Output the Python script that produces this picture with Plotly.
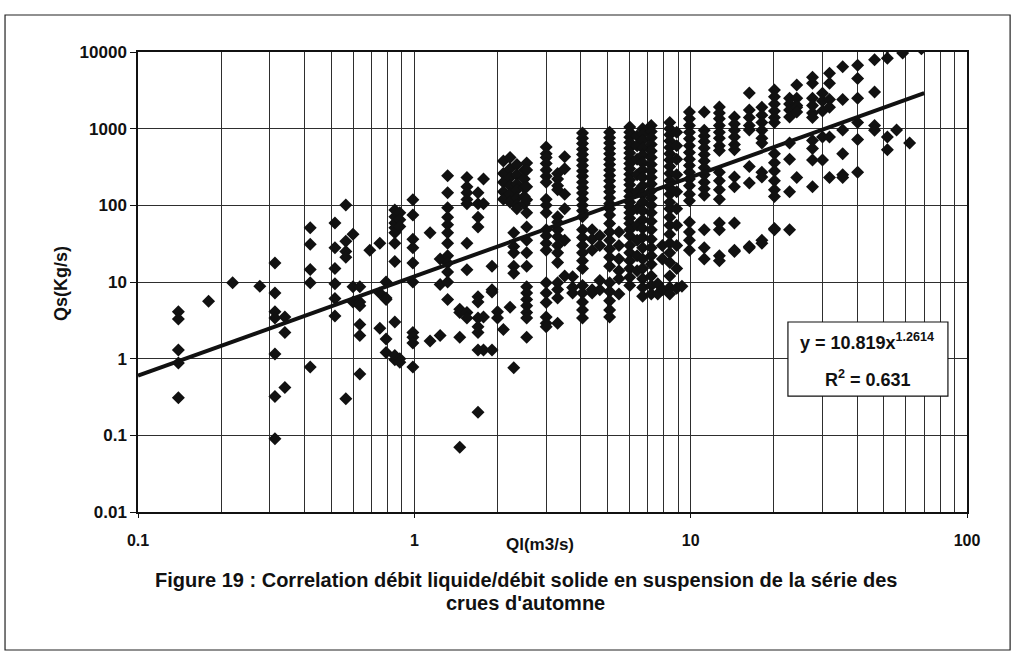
import plotly.graph_objects as go

# Ql (m3/s) columns and the Qs (Kg/s) values read at each column
ql_cols = [0.14, 0.18, 0.22, 0.276, 0.313, 0.34, 0.42, 0.516, 0.565, 0.60,
           0.635, 0.69, 0.75, 0.79, 0.85, 0.886, 0.988, 1.14, 1.24, 1.32,
           1.46, 1.55, 1.70, 1.78, 1.91, 2.0, 2.1, 2.22, 2.29, 2.35,
           2.5, 2.55, 3.0, 3.3, 3.5, 3.74, 4.06, 4.4, 4.69, 5.09,
           5.5, 6.02, 6.4, 6.7, 7.2, 7.6, 7.9, 8.4, 8.9, 9.3,
           9.9, 11.2, 12.7, 14.4, 16.3, 18.1, 20.1, 22.8, 24.2, 27.6,
           30.0, 31.8, 35.5, 40.2, 46.3, 51.5, 55.6, 58.5, 62.0, 68.4]

qs_cols = [
    [4.1, 3.3, 1.3, 0.88, 0.31],
    [5.6],
    [9.8],
    [8.8],
    [17.7, 7.2, 4.1, 3.4, 1.15, 0.32, 0.09],
    [3.5, 2.2, 0.42],
    [51, 31, 14.6, 9.8, 0.78],
    [59, 28, 15, 9.5, 6.1, 3.6],
    [101, 34, 25, 21, 0.30],
    [42, 8.7, 5.5],
    [8.7, 5.5, 4.9, 2.8, 2.0, 0.63],
    [26],
    [32, 7.2, 2.5],
    [10, 6.2, 5.9, 1.8, 1.2],
    [87, 71, 59, 51, 44, 32, 18.5, 3.0, 0.97, 1.1],
    [80, 65, 53, 1.0, 0.9],
    [118, 75, 36, 28, 17.7, 10, 2.2, 1.9, 1.6, 0.78],
    [44, 1.7],
    [20, 9.3, 2.0],
    [243, 146, 93, 70, 56, 44, 32, 22, 17.7, 13.5, 10, 5.9],
    [4.4, 4.0, 1.9, 0.07],
    [230, 175, 146, 119, 105, 32, 14.4, 4.0, 3.4],
    [146, 105, 70, 52, 6.4, 5.5, 3.4, 2.6, 2.2, 1.3, 0.20],
    [220, 105, 3.5, 1.3],
    [16, 7.9, 7.4, 1.3],
    [4.1, 3.4],
    [380, 260, 200, 150, 120, 2.4],
    [420, 300, 230, 180, 140, 110, 4.7],
    [44, 29, 24, 16, 13, 0.76],
    [340, 250, 190, 160, 125, 100, 90],
    [290, 220, 170, 130, 105],
    [357, 290, 175, 118, 80, 52, 35, 24, 16, 8.7, 7.2, 5.9, 4.9, 4.0, 3.4, 1.9],
    [575, 470, 420, 350, 290, 240, 200, 120, 100, 80, 48, 40, 32, 26, 9.8, 7.2, 5.4, 3.5, 2.9, 2.6],
    [260, 220, 180, 160, 71, 60, 48, 39, 30, 24, 18, 9.8, 8, 6.2, 2.9],
    [430, 300, 140, 90, 35, 12],
    [11.7, 8.5, 7.2],
    [880, 750, 640, 540, 460, 390, 330, 280, 240, 200, 170, 145, 120, 100, 85, 71,
     48, 38, 30, 24, 19, 15, 9, 7.2, 5.5, 4.3, 3.4],
    [48, 36, 26, 7.9, 7.2],
    [40, 30, 10.5, 7.9],
    [900, 760, 650, 550, 470, 400, 340, 290, 245, 210, 175, 150, 125, 105, 90, 75,
     58, 45, 35, 27, 21, 16, 9.8, 7.5, 5.7, 4.3, 3.5],
    [45, 30, 20, 14, 11, 7],
    [1050, 900, 770, 660, 560, 480, 410, 350, 300, 255, 215, 185, 155, 130, 110, 95,
     80, 68, 58, 48, 40, 30, 24, 19, 15, 11.5, 9],
    [800, 600, 400, 250, 150, 90, 55, 35, 22, 14],
    [1000, 850, 700, 560, 450, 360, 290, 230, 180, 140, 110, 85, 65, 50, 38, 28, 20,
     15, 11, 8.5, 6.5],
    [1100, 920, 760, 620, 510, 420, 340, 280, 230, 190, 155, 125, 100, 80, 62, 48,
     36, 28, 22, 17, 12, 9, 7],
    [9.5, 7],
    [30, 20, 8],
    [1200, 1000, 830, 690, 570, 470, 390, 320, 260, 210, 170, 140, 110, 90, 70, 55,
     42, 32, 24, 18, 12, 8.5, 7],
    [900, 600, 400, 250, 150, 90, 55, 30, 15, 8.3],
    [8.8],
    [1650, 1350, 1100, 900, 740, 600, 490, 400, 330, 270, 220, 180, 140, 115, 60, 45, 35, 26],
    [1650, 950, 800, 680, 560, 460, 380, 310, 250, 200, 165, 135, 48, 28, 20],
    [1920, 1600, 1350, 1100, 900, 750, 600, 520, 270, 210, 160, 120, 59, 48, 22, 19],
    [1420, 1150, 950, 780, 620, 530, 234, 175, 59, 26, 25],
    [2920, 1750, 1400, 1100, 960, 320, 196, 29, 28],
    [1900, 1500, 1200, 950, 750, 650, 270, 234, 35, 32],
    [3200, 2600, 2100, 1700, 1400, 1200, 470, 360, 280, 210, 160, 130, 50, 48],
    [2500, 2100, 1750, 1420, 650, 400, 150, 48],
    [3700, 2500, 2000, 1900, 1650, 230],
    [4700, 3900, 2500, 2000, 1600, 1400, 700, 550, 390, 175],
    [2900, 2300, 1700, 780, 390],
    [5300, 3900, 2400, 1900, 780, 230],
    [6400, 2400, 960, 470, 250, 230],
    [6700, 4500, 2500, 1200, 720, 270],
    [7900, 3000, 1100, 950],
    [11500, 8300, 780, 530],
    [960],
    [9700],
    [650],
    [11000],
]

# Power trend line endpoints (y = 10.819x^1.2614, as drawn)
trend_ql = [0.1, 70]
trend_qs = [0.6, 2900]

x_ticks = [0.1, 1, 10, 100]
x_ticktext = ["0.1", "1", "10", "100"]
y_ticks = [0.01, 0.1, 1, 10, 100, 1000, 10000]
y_ticktext = ["0.01", "0.1", "1", "10", "100", "1000", "10000"]

xs, ys = [], []
for q, col in zip(ql_cols, qs_cols):
    for v in col:
        xs.append(q)
        ys.append(v)

FONT = "Liberation Sans"
INK = "#111111"
fig = go.Figure()
fig.add_trace(go.Scatter(x=xs, y=ys, mode="markers",
                         marker=dict(symbol="diamond", size=10, color=INK),
                         showlegend=False))
fig.add_trace(go.Scatter(x=trend_ql, y=trend_qs, mode="lines",
                         line=dict(color=INK, width=4), showlegend=False))

grid = "#2e2e2e"
fig.update_xaxes(type="log", range=[-1, 2], tickvals=x_ticks, ticktext=x_ticktext,
                 showgrid=True, gridcolor=grid, gridwidth=1,
                 minor=dict(dtick="D1", showgrid=True, gridcolor=grid, gridwidth=1, ticks=""),
                 showline=True, linecolor=INK, linewidth=1.5, mirror=True,
                 ticks="outside", ticklen=4, tickcolor=INK,
                 ticklabelstandoff=9,
                 tickfont=dict(family=FONT, size=16, color=INK, weight="bold"),
                 zeroline=False)
fig.update_yaxes(type="log", range=[-2, 4], tickvals=y_ticks, ticktext=y_ticktext,
                 showgrid=True, gridcolor=grid, gridwidth=1,
                 showline=True, linecolor=INK, linewidth=1.5, mirror=True,
                 ticks="outside", ticklen=6, tickcolor=INK,
                 tickfont=dict(family=FONT, size=17, color=INK, weight="bold"),
                 zeroline=False)

fig.add_annotation(xref="paper", yref="paper", x=-0.092, y=0.497, text="Qs(Kg/s)",
                   textangle=-90, showarrow=False, xanchor="center", yanchor="middle",
                   font=dict(family=FONT, size=18, color=INK, weight="bold"))
fig.add_annotation(xref="paper", yref="paper", x=0.485, y=-0.07, text="Ql(m3/s)",
                   showarrow=False, xanchor="center", yanchor="middle",
                   font=dict(family=FONT, size=17, color=INK, weight="bold"))
fig.add_annotation(xref="paper", yref="paper", x=0.468, y=-0.148,
                   text="Figure 19 : Correlation débit liquide/débit solide en suspension de la série des",
                   showarrow=False, xanchor="center", yanchor="middle",
                   font=dict(family=FONT, size=20, color=INK, weight="bold"))
fig.add_annotation(xref="paper", yref="paper", x=0.468, y=-0.198,
                   text="crues d'automne",
                   showarrow=False, xanchor="center", yanchor="middle",
                   font=dict(family=FONT, size=20, color=INK, weight="bold"))

# equation box
fig.add_shape(type="rect", xref="paper", yref="paper", x0=0.784, x1=0.977,
              y0=0.252, y1=0.413, fillcolor="white", line=dict(color=INK, width=1.2),
              layer="above")
fig.add_annotation(xref="paper", yref="paper", x=0.8794, y=0.3696,
                   text="y = 10.819x<sup>1.2614</sup>", showarrow=False,
                   xanchor="center", yanchor="middle",
                   font=dict(family=FONT, size=18, color=INK, weight="bold"))
fig.add_annotation(xref="paper", yref="paper", x=0.8806, y=0.2913,
                   text="R<sup>2</sup> = 0.631", showarrow=False,
                   xanchor="center", yanchor="middle",
                   font=dict(family=FONT, size=18, color=INK, weight="bold"))

# outer frame
fig.add_shape(type="rect", xref="paper", yref="paper", x0=-0.1604, x1=1.052,
              y0=-0.30, y1=1.0804, line=dict(color="#222", width=1.2),
              fillcolor="rgba(0,0,0,0)", layer="above")

fig.update_layout(width=1015, height=659, plot_bgcolor="white", paper_bgcolor="white",
                  margin=dict(l=138, r=48, t=52, b=147),
                  font=dict(family=FONT, color=INK))

fig.write_html("out.html")
